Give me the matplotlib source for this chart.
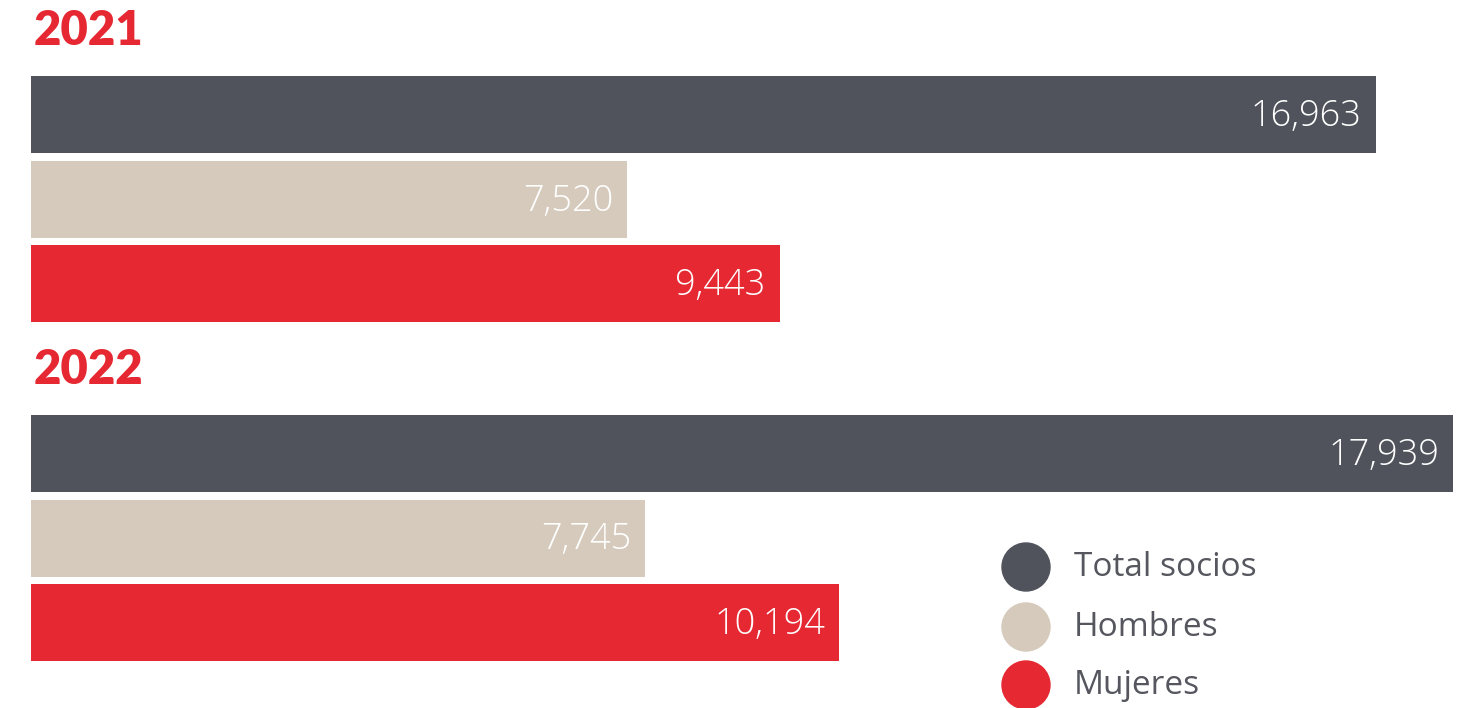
import matplotlib
matplotlib.use("Agg")
import matplotlib.pyplot as plt
from matplotlib.patches import Ellipse

years = ["2021", "2022"]
series = ["Total socios", "Hombres", "Mujeres"]
total = [16963, 17939]
hombres = [7520, 7745]
mujeres = [9443, 10194]
colors = ["#50535c", "#d5cabc", "#e62833"]

W, H = 1462, 708
fig = plt.figure(figsize=(W / 100, H / 100), dpi=100)
fig.patch.set_facecolor("white")

x0, x1 = 31, 1453
ax = fig.add_axes([x0 / W, 0, (x1 - x0) / W, 1])
ax.set_xlim(0, max(total))
ax.set_ylim(H, 0)
ax.axis("off")

group_top = [76, 415]
bar_h = 77
step = 84.5
title_y = [31, 370]
vals = [total, hombres, mujeres]

for gi, yr in enumerate(years):
    fig.text(34 / W, 1 - title_y[gi] / H, yr, color="#e62833", fontsize=34,
             fontweight="heavy", family="Lato", va="center", ha="left")
    for si in range(3):
        v = vals[si][gi]
        top = group_top[gi] + si * step
        ax.barh(top + bar_h / 2, v, height=bar_h, left=0, color=colors[si])
        ax.annotate(f"{v:,}", xy=(v, top + bar_h / 2 + 2), xytext=(-14, 0),
                    textcoords="offset pixels", ha="right", va="center",
                    color="white", fontsize=26, family="Open Sans", fontweight="light")

# legend
leg_y = [567, 627, 685]
for i, name in enumerate(series):
    fig.patches.append(Ellipse((1026 / W, 1 - leg_y[i] / H),
                       48 / W, 48 / H, transform=fig.transFigure, color=colors[i]))
    fig.text(1074 / W, 1 - leg_y[i] / H, name, color="#55565e", fontsize=24,
             family="Open Sans", va="center", ha="left")

fig.savefig("out.png", dpi=100, facecolor="white")
